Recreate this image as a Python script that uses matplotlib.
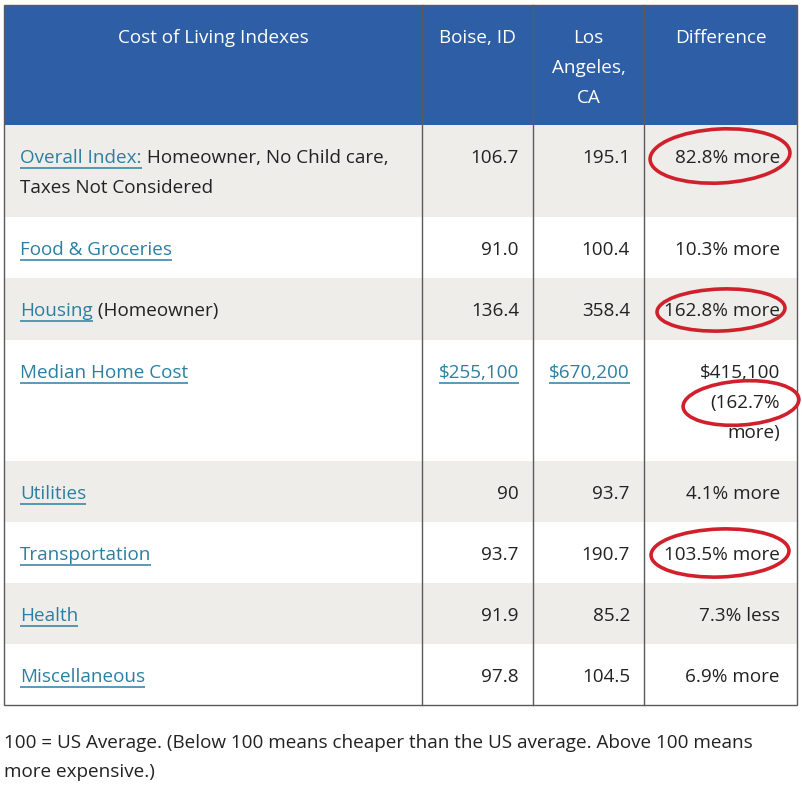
import matplotlib
matplotlib.use("Agg")
import matplotlib.pyplot as plt
from matplotlib.patches import Rectangle, Ellipse

# ---- data ----
headers = ["Cost of Living Indexes", "Boise, ID", "Los\nAngeles,\nCA", "Difference"]
categories = ["Overall Index:", "Food & Groceries", "Housing", "Median Home Cost",
              "Utilities", "Transportation", "Health", "Miscellaneous"]
category_notes = [" Homeowner, No Child care,\nTaxes Not Considered", "", " (Homeowner)", "",
                  "", "", "", ""]
boise = ["106.7", "91.0", "136.4", "$255,100", "90", "93.7", "91.9", "97.8"]
los_angeles = ["195.1", "100.4", "358.4", "$670,200", "93.7", "190.7", "85.2", "104.5"]
difference = ["82.8% more", "10.3% more", "162.8% more", "$415,100\n(162.7%\nmore)",
              "4.1% more", "103.5% more", "7.3% less", "6.9% more"]
value_is_link = [False, False, False, True, False, False, False, False]
circled_rows = [0, 2, 3, 5]
footnote = "100 = US Average. (Below 100 means cheaper than the US average. Above 100 means\nmore expensive.)"

# ---- layout ----
W, H = 803, 788
col_x = [4, 422, 533, 644, 797]
header_top, header_bot = 5, 125
row_edges = [125, 217, 278, 340, 461, 522, 583, 644, 705]
line_h = 30
first_off = 33
FS = 13.6
FONT = ["Open Sans", "DejaVu Sans"]
BLUE = "#2E5FA6"
GRAY = "#EEEDEA"
LINK = "#2B7FA3"
TXT = "#222222"
BORDER = "#5A5A5A"
RED = "#D0202C"

fig = plt.figure(figsize=(W / 100, H / 100), dpi=100)
ax = fig.add_axes([0, 0, 1, 1])
ax.set_xlim(0, W)
ax.set_ylim(H, 0)
ax.axis("off")
fig.patch.set_facecolor("white")

# header background
ax.add_patch(Rectangle((col_x[0], header_top), col_x[-1] - col_x[0], header_bot - header_top,
                       facecolor=BLUE, edgecolor="none", zorder=1))
# row backgrounds (alternating)
for i in range(len(categories)):
    top, bot = row_edges[i], row_edges[i + 1]
    fc = GRAY if i % 2 == 0 else "white"
    ax.add_patch(Rectangle((col_x[0], top), col_x[-1] - col_x[0], bot - top,
                           facecolor=fc, edgecolor="none", zorder=1.5))

# borders
ax.add_patch(Rectangle((col_x[0], header_top), col_x[-1] - col_x[0], row_edges[-1] - header_top,
                       facecolor="none", edgecolor=BORDER, lw=1.0, zorder=3))
for x in col_x[1:-1]:
    ax.plot([x, x], [header_top, row_edges[-1]], color=BORDER, lw=1.0, zorder=3)

# header text
for j, h in enumerate(headers):
    cx = (col_x[j] + col_x[j + 1]) / 2
    for k, ln in enumerate(h.split("\n")):
        ax.text(cx, header_top + first_off + k * line_h, ln, ha="center", va="center",
                color="white", fontsize=FS, family=FONT, zorder=4)

fig.canvas.draw()
renderer = fig.canvas.get_renderer()
inv = ax.transData.inverted()


def text_width(t):
    bb = t.get_window_extent(renderer)
    (x0, _), (x1, _) = inv.transform([(bb.x0, bb.y0), (bb.x1, bb.y0)])
    return x0, x1


def underline(t, y):
    x0, x1 = text_width(t)
    ax.plot([x0, x1], [y + 10, y + 10], color=LINK, lw=1.1, zorder=4, solid_capstyle="butt")


pad_r = 14
for i in range(len(categories)):
    top = row_edges[i]
    y0 = top + first_off
    # category (link)
    t = ax.text(20, y0, categories[i], ha="left", va="center", color=LINK, fontsize=FS,
                family=FONT, zorder=4)
    underline(t, y0)
    note = category_notes[i]
    if note:
        _, xe = text_width(t)
        lines = note.split("\n")
        ax.text(xe, y0, lines[0], ha="left", va="center", color=TXT, fontsize=FS,
                family=FONT, zorder=4)
        for k, ln in enumerate(lines[1:], start=1):
            ax.text(20, y0 + k * line_h, ln, ha="left", va="center", color=TXT,
                    fontsize=FS, family=FONT, zorder=4)
    # values
    for j, vals in ((1, boise), (2, los_angeles)):
        col = LINK if value_is_link[i] else TXT
        t = ax.text(col_x[j + 1] - pad_r, y0, vals[i], ha="right", va="center", color=col,
                    fontsize=FS, family=FONT, zorder=4)
        if value_is_link[i]:
            underline(t, y0)
    for k, ln in enumerate(difference[i].split("\n")):
        ax.text(col_x[4] - 17, y0 + k * line_h, ln, ha="right", va="center", color=TXT,
                fontsize=FS, family=FONT, zorder=4)

# red hand-drawn circles
ellipses = {0: (720, 156, 140, 54, -3), 2: (721, 310, 128, 42, -2),
            3: (741, 403, 116, 44, -4), 5: (720, 553, 138, 48, -2)}
for r in circled_rows:
    cx, cy, w, h, ang = ellipses[r]
    ax.add_patch(Ellipse((cx, cy), w, h, angle=ang, facecolor="none", edgecolor=RED,
                         lw=2.6, zorder=5))

# footnote
for k, ln in enumerate(footnote.split("\n")):
    ax.text(4, 743 + k * 29, ln, ha="left", va="center", color=TXT, fontsize=FS,
            family=FONT, zorder=4)

fig.savefig("out.png", dpi=100)
